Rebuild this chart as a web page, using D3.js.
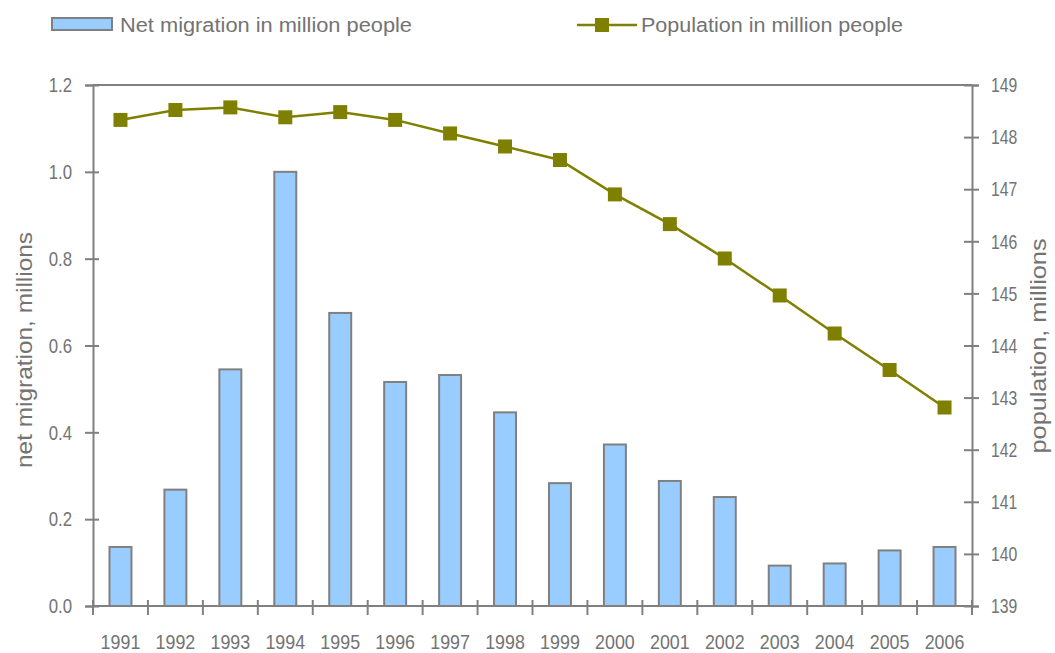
<!DOCTYPE html>
<html>
<head>
<meta charset="utf-8">
<script src="https://cdn.jsdelivr.net/npm/d3@7"></script>
<style>
  html, body { margin: 0; padding: 0; background: #fff; }
  svg { display: block; }
  text { font-family: "Liberation Sans", Arial, sans-serif; fill: #737373; }
</style>
</head>
<body>
<svg id="chart" width="1055" height="653"></svg>
<script>
const years = ['1991','1992','1993','1994','1995','1996','1997','1998','1999','2000','2001','2002','2003','2004','2005','2006'];
const netMigration = [0.136, 0.268, 0.545, 1.0, 0.675, 0.516, 0.532, 0.446, 0.283, 0.372, 0.288, 0.251, 0.093, 0.098, 0.128, 0.136];
const population = [148.33, 148.52, 148.57, 148.38, 148.48, 148.33, 148.07, 147.82, 147.56, 146.90, 146.33, 145.67, 144.96, 144.23, 143.53, 142.81];
const leftTicks = [0, 0.2, 0.4, 0.6, 0.8, 1.0, 1.2];
const rightTicks = [139, 140, 141, 142, 143, 144, 145, 146, 147, 148, 149];
const legendLabels = ['Net migration in million people', 'Population in million people'];
const axisTitles = ['net migration, millions', 'population, millions'];

const svg = d3.select('#chart');
const L = 93, R = 972, T = 85, B = 606;
const axisColor = '#808080';
const barFill = '#99ccff';
const lineColor = '#808000';

const x = d3.scaleBand().domain(years).range([L, R]).padding(0);
const yL = d3.scaleLinear().domain([0, 1.2]).range([B, T]);
const yR = d3.scaleLinear().domain([139, 149]).range([B, T]);

function squeeze(sel, k) {
  sel.each(function() {
    const w = this.getComputedTextLength();
    d3.select(this).attr('textLength', w * k).attr('lengthAdjust', 'spacingAndGlyphs');
  });
}

// bars
const bw = x.bandwidth() * 0.4;
svg.append('g').selectAll('rect').data(years).join('rect')
  .attr('x', (d) => x(d) + x.bandwidth() / 2 - bw / 2)
  .attr('y', (d, i) => yL(netMigration[i]))
  .attr('width', bw)
  .attr('height', (d, i) => B - yL(netMigration[i]))
  .attr('fill', barFill)
  .attr('stroke', axisColor)
  .attr('stroke-width', 2);

// frame: top border
svg.append('line').attr('x1', L).attr('x2', R).attr('y1', T).attr('y2', T)
  .attr('stroke', axisColor).attr('stroke-width', 2);

// left axis
const gl = svg.append('g').attr('transform', `translate(${L},0)`)
  .call(d3.axisLeft(yL).tickValues(leftTicks).tickFormat(d3.format('.1f')).tickSize(8).tickPadding(13));
gl.select('.domain').attr('stroke', axisColor).attr('stroke-width', 2);
gl.selectAll('.tick line').attr('stroke', axisColor).attr('stroke-width', 2).attr('x1', 6).attr('x2', -8);
gl.selectAll('.tick text').style('font-size', '21px').attr('fill', '#737373');
squeeze(gl.selectAll('.tick text'), 0.8);

// right axis
const gr = svg.append('g').attr('transform', `translate(${R},0)`)
  .call(d3.axisRight(yR).tickValues(rightTicks).tickFormat(d3.format('d')).tickSize(7).tickPadding(12));
gr.select('.domain').attr('stroke', axisColor).attr('stroke-width', 2);
gr.selectAll('.tick line').attr('stroke', axisColor).attr('stroke-width', 2).attr('x1', -8).attr('x2', 7);
gr.selectAll('.tick text').style('font-size', '21px').attr('fill', '#737373');
squeeze(gr.selectAll('.tick text'), 0.75);

// bottom axis
const gb = svg.append('g').attr('transform', `translate(0,${B})`);
gb.append('line').attr('x1', L).attr('x2', R).attr('y1', 0).attr('y2', 0)
  .attr('stroke', axisColor).attr('stroke-width', 2);
const boundaries = years.map((d) => x(d)).concat([x.range()[1]]);
gb.selectAll('line.tk').data(boundaries).join('line').attr('class', 'tk')
  .attr('x1', (d) => d).attr('x2', (d) => d).attr('y1', -6).attr('y2', 9)
  .attr('stroke', axisColor).attr('stroke-width', 2);
const xl = gb.selectAll('text').data(years).join('text')
  .attr('x', (d) => x(d) + x.bandwidth() / 2)
  .attr('y', 43)
  .attr('text-anchor', 'middle')
  .style('font-size', '21px')
  .text((d) => d);
squeeze(xl, 0.85);

// population line
const line = d3.line().x((d, i) => x(years[i]) + x.bandwidth() / 2).y((d) => yR(d));
svg.append('path').datum(population)
  .attr('d', line).attr('fill', 'none').attr('stroke', lineColor).attr('stroke-width', 2.5);
const ms = 14;
svg.append('g').selectAll('rect').data(population).join('rect')
  .attr('x', (d, i) => x(years[i]) + x.bandwidth() / 2 - ms / 2)
  .attr('y', (d) => yR(d) - ms / 2)
  .attr('width', ms).attr('height', ms)
  .attr('fill', lineColor);

// axis titles
svg.append('text')
  .attr('transform', 'translate(32,350) rotate(-90)')
  .attr('text-anchor', 'middle')
  .style('font-size', '22px')
  .attr('textLength', 236).attr('lengthAdjust', 'spacingAndGlyphs')
  .text(axisTitles[0]);
svg.append('text')
  .attr('transform', 'translate(1046,346) rotate(-90)')
  .attr('text-anchor', 'middle')
  .style('font-size', '22px')
  .attr('textLength', 215).attr('lengthAdjust', 'spacingAndGlyphs')
  .text(axisTitles[1]);

// legend
const lg = svg.append('g');
lg.append('rect').attr('x', 52).attr('y', 18).attr('width', 60).attr('height', 12)
  .attr('fill', barFill).attr('stroke', axisColor).attr('stroke-width', 2);
lg.append('text').attr('x', 120).attr('y', 32).style('font-size', '20px')
  .attr('textLength', 292).attr('lengthAdjust', 'spacingAndGlyphs')
  .text(legendLabels[0]);
lg.append('line').attr('x1', 577).attr('x2', 637).attr('y1', 25).attr('y2', 25)
  .attr('stroke', lineColor).attr('stroke-width', 2.5);
lg.append('rect').attr('x', 602 - ms / 2).attr('y', 25 - ms / 2).attr('width', ms).attr('height', ms)
  .attr('fill', lineColor);
lg.append('text').attr('x', 641).attr('y', 32).style('font-size', '20px')
  .attr('textLength', 262).attr('lengthAdjust', 'spacingAndGlyphs')
  .text(legendLabels[1]);
</script>
</body>
</html>
